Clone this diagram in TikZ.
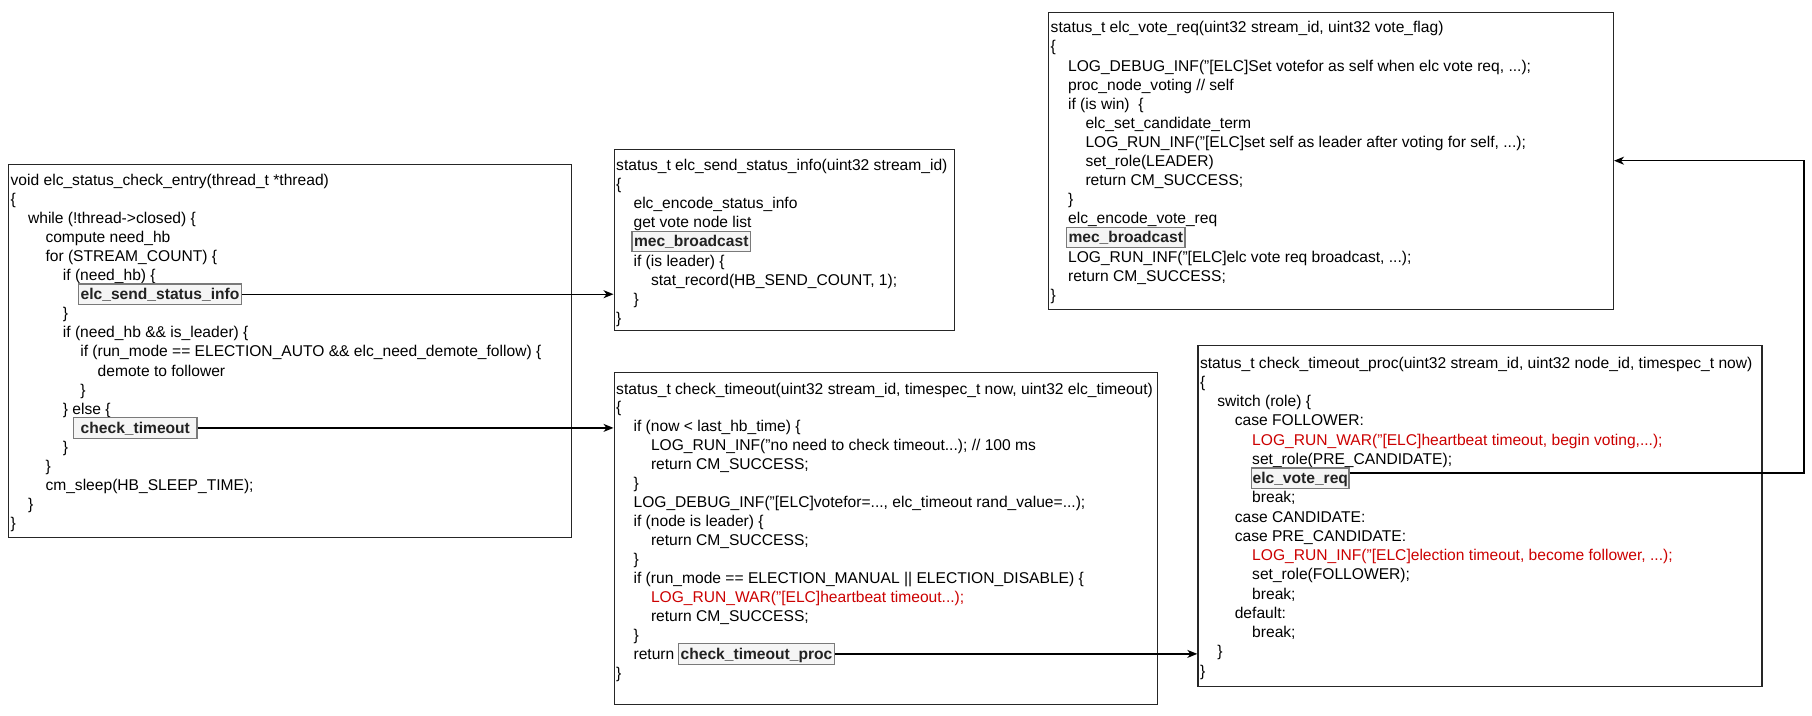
\documentclass[tikz,border=0pt]{standalone}
\usepackage{fontspec}
\setmainfont{Liberation Sans}
\usetikzlibrary{arrows.meta,calc}
\definecolor{hlborder}{HTML}{7A7A7A}
\definecolor{hlfill}{HTML}{F5F5F5}
\definecolor{hltext}{HTML}{222222}
\definecolor{warnred}{HTML}{CC0000}
\definecolor{boxline}{HTML}{262626}
\newcommand{\cdl}[5][]{\node[code,#1] (#2) at ({\cbx+2.5+17.4*#3},{\cby+\cbs*#4}) {#5};}
\begin{document}
\begin{tikzpicture}[x=1pt,y=-1pt,
  code/.style={anchor=base west, inner sep=0pt, font=\fontsize{15.6}{19.1}\selectfont, text=black},
  warn/.style={text=warnred},
  hl/.style={anchor=base west, draw=hlborder, fill=hlfill, line width=1.2pt, inner xsep=2pt, inner ysep=1.5pt, text height=14.1pt, text depth=3.3pt, font=\fontsize{15.6}{19.1}\selectfont\bfseries, text=hltext},
  codebox/.style={draw=boxline, line width=1.3pt, anchor=north west, inner sep=0pt, fill=white},
  conn/.style={draw=black, line width=1.3pt, -{Stealth[length=10pt,width=8pt,inset=3pt]}}
]
\fill[white] (0,0) rectangle (1812,715);
\useasboundingbox (0,0) rectangle (1812,715);

% boxes
\node[codebox, minimum width=563pt, minimum height=373pt] (b1) at (8,163.5) {};
\node[codebox, minimum width=340.5pt, minimum height=181pt] (b2) at (613.5,149) {};
\node[codebox, minimum width=543.5pt, minimum height=332pt] (b3) at (613.5,372) {};
\node[codebox, minimum width=564.7pt, minimum height=297pt] (b4) at (1048,11.6) {};
\node[codebox, minimum width=564pt, minimum height=341pt] (b5) at (1197.3,345) {};

% box 1
\def\cbx{8}\def\cby{185}\def\cbs{19.1}
\cdl{a0}{0}{0}{void elc\_status\_check\_entry(thread\_t *thread)}
\cdl{a1}{0}{1}{\{}
\cdl{a2}{1}{2}{while (!thread->closed) \{}
\cdl{a3}{2}{3}{compute need\_hb}
\cdl{a4}{2}{4}{for (STREAM\_COUNT) \{}
\cdl{a5}{3}{5}{if (need\_hb) \{}
\node[hl] (ss) at ({\cbx+2.5+17.4*4-2},{\cby+\cbs*6}) {elc\_send\_status\_info};
\cdl{a7}{3}{7}{\}}
\cdl{a8}{3}{8}{if (need\_hb \&\& is\_leader) \{}
\cdl{a9}{4}{9}{if (run\_mode == ELECTION\_AUTO \&\& elc\_need\_demote\_follow) \{}
\cdl{a10}{5}{10}{demote to follower}
\cdl{a11}{4}{11}{\}}
\cdl{a12}{3}{12}{\} else \{}
\node[hl, inner xsep=7pt] (ct) at ({\cbx+2.5+17.4*4-7},{\cby+\cbs*13}) {check\_timeout};
\cdl{a14}{3}{14}{\}}
\cdl{a15}{2}{15}{\}}
\cdl{a16}{2}{16}{cm\_sleep(HB\_SLEEP\_TIME);}
\cdl{a17}{1}{17}{\}}
\cdl{a18}{0}{18}{\}}

% box 2
\def\cbx{613.5}\def\cby{170.5}\def\cbs{19.1}
\cdl{b0l}{0}{0}{status\_t elc\_send\_status\_info(uint32 stream\_id)}
\cdl{b1l}{0}{1}{\{}
\cdl{b2l}{1}{2}{elc\_encode\_status\_info}
\cdl{b3l}{1}{3}{get vote node list}
\node[hl] (mb1) at ({\cbx+2.5+17.4*1-2},{\cby+\cbs*4}) {mec\_broadcast};
\cdl{b5l}{1}{5}{if (is leader) \{}
\cdl{b6l}{2}{6}{stat\_record(HB\_SEND\_COUNT, 1);}
\cdl{b7l}{1}{7}{\}}
\cdl{b8l}{0}{8}{\}}

% box 3
\def\cbx{613.5}\def\cby{394}\def\cbs{18.95}
\cdl{c0}{0}{0}{status\_t check\_timeout(uint32 stream\_id, timespec\_t now, uint32 elc\_timeout)}
\cdl{c1}{0}{1}{\{}
\cdl{c2}{1}{2}{if (now < last\_hb\_time) \{}
\cdl{c3}{2}{3}{LOG\_RUN\_INF("no need to check timeout...); // 100 ms}
\cdl{c4}{2}{4}{return CM\_SUCCESS;}
\cdl{c5}{1}{5}{\}}
\cdl{c6}{1}{6}{LOG\_DEBUG\_INF("[ELC]votefor=..., elc\_timeout rand\_value=...);}
\cdl{c7}{1}{7}{if (node is leader) \{}
\cdl{c8}{2}{8}{return CM\_SUCCESS;}
\cdl{c9}{1}{9}{\}}
\cdl{c10}{1}{10}{if (run\_mode == ELECTION\_MANUAL || ELECTION\_DISABLE) \{}
\cdl[warn]{c11}{2}{11}{LOG\_RUN\_WAR("[ELC]heartbeat timeout...);}
\cdl{c12}{2}{12}{return CM\_SUCCESS;}
\cdl{c13}{1}{13}{\}}
\cdl{c14}{1}{14}{return}
\node[hl, inner xsep=2.5pt] (ctp) at ([xshift=3pt]c14.base east) {check\_timeout\_proc};
\cdl{c15}{0}{15}{\}}

% box 4
\def\cbx{1048}\def\cby{32.8}\def\cbs{19.1}
\cdl{d0}{0}{0}{status\_t elc\_vote\_req(uint32 stream\_id, uint32 vote\_flag)}
\cdl{d1}{0}{1}{\{}
\cdl{d2}{1}{2}{LOG\_DEBUG\_INF("[ELC]Set votefor as self when elc vote req, ...);}
\cdl{d3}{1}{3}{proc\_node\_voting // self}
\cdl{d4}{1}{4}{if (is win) \ \{}
\cdl{d5}{2}{5}{elc\_set\_candidate\_term}
\cdl{d6}{2}{6}{LOG\_RUN\_INF("[ELC]set self as leader after voting for self, ...);}
\cdl{d7}{2}{7}{set\_role(LEADER)}
\cdl{d8}{2}{8}{return CM\_SUCCESS;}
\cdl{d9}{1}{9}{\}}
\cdl{d10}{1}{10}{elc\_encode\_vote\_req}
\node[hl] (mb2) at ({\cbx+2.5+17.4*1-2},{\cby+\cbs*11}) {mec\_broadcast};
\cdl{d12}{1}{12}{LOG\_RUN\_INF("[ELC]elc vote req broadcast, ...);}
\cdl{d13}{1}{13}{return CM\_SUCCESS;}
\cdl{d14}{0}{14}{\}}

% box 5
\def\cbx{1197.3}\def\cby{368}\def\cbs{19.25}
\cdl{e0}{0}{0}{status\_t check\_timeout\_proc(uint32 stream\_id, uint32 node\_id, timespec\_t now)}
\cdl{e1}{0}{1}{\{}
\cdl{e2}{1}{2}{switch (role) \{}
\cdl{e3}{2}{3}{case FOLLOWER:}
\cdl[warn]{e4}{3}{4}{LOG\_RUN\_WAR("[ELC]heartbeat timeout, begin voting,...);}
\cdl{e5}{3}{5}{set\_role(PRE\_CANDIDATE);}
\node[hl, inner xsep=1pt] (vr) at ({\cbx+2.5+17.4*3-1},{\cby+\cbs*6}) {elc\_vote\_req};
\cdl{e7}{3}{7}{break;}
\cdl{e8}{2}{8}{case CANDIDATE:}
\cdl{e9}{2}{9}{case PRE\_CANDIDATE:}
\cdl[warn]{e10}{3}{10}{LOG\_RUN\_INF("[ELC]election timeout, become follower, ...);}
\cdl{e11}{3}{11}{set\_role(FOLLOWER);}
\cdl{e12}{3}{12}{break;}
\cdl{e13}{2}{13}{default:}
\cdl{e14}{3}{14}{break;}
\cdl{e15}{1}{15}{\}}
\cdl{e16}{0}{16}{\}}

% connectors
\draw[conn] (ss.east) -- (ss.east -| b2.west);
\draw[conn] (ct.east) -- (ct.east -| b3.west);
\draw[conn] (ctp.east) -- (ctp.east -| b5.west);
\coordinate (up) at (1804,160.7);
\draw[conn] ([yshift=5pt]vr.east) -| (up) -- (up -| b4.east);
\end{tikzpicture}
\end{document}
